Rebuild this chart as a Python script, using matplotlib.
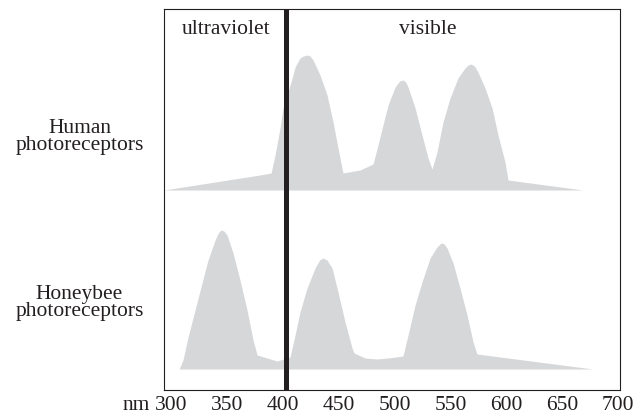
import numpy as np
import matplotlib.pyplot as plt

# wavelength (nm) and relative sensitivity
human_nm = [293.7, 379.6, 389.5, 393.1, 397.5, 400.2, 407.4, 411.0, 415.4, 418.4,
            421.7, 424.4, 427.1, 433.3, 439.6, 445.0, 449.4, 453.9, 469.1, 480.8,
            485.2, 489.7, 494.2, 500.5, 504.5, 507.6, 510.0, 512.1, 518.4, 524.6,
            530.0, 533.6, 538.0, 543.4, 549.7, 556.8, 563.1, 566.0, 568.5, 571.5,
            574.7, 581.0, 587.3, 592.6, 598.9, 601.6, 668.7]
human_sens = [0, 15, 17, 35, 62, 82, 108, 123, 132, 134,
              135, 134, 130, 115, 95, 68, 42, 17, 20, 26,
              45, 65, 85, 103, 109, 110, 108, 103, 82, 55,
              32, 21, 38, 68, 92, 112, 122, 125, 126, 124,
              118, 102, 82, 55, 28, 10, 0]

bee_nm = [307.2, 310.7, 315.2, 321.5, 327.7, 333.1, 339.4, 342.3, 344.7, 347.3,
          350.1, 355.5, 361.7, 368.0, 373.4, 377.0, 385.9, 394.9, 406.5, 411.0,
          415.4, 421.7, 428.9, 433.0, 436.0, 439.5, 444.1, 449.4, 455.7, 462.0,
          463.8, 473.6, 484.3, 494.2, 507.6, 512.1, 518.4, 524.6, 531.8, 538.0,
          541.6, 544.5, 547.0, 552.4, 558.6, 564.9, 570.3, 573.8, 677.6]
bee_sens = [0, 9, 32, 59, 86, 109, 129, 136, 139, 138,
            134, 116, 89, 59, 29, 14, 11, 8, 12, 34,
            57, 81, 101, 109, 111, 109, 101, 77, 47, 21,
            16, 11, 10, 11, 13, 34, 64, 87, 111, 122,
            126, 125, 121, 106, 81, 54, 27, 15, 0]

ticks = [300, 350, 400, 450, 500, 550, 600, 650, 700]
uv_boundary = 403

plt.rcParams['font.family'] = ['Liberation Serif', 'DejaVu Serif']
ink = '#231f20'
fill = '#d6d7d9'
fs = 15.5

fig = plt.figure(figsize=(6.38, 4.17), dpi=100)
ax = fig.add_axes([164 / 638, 27 / 417, 456 / 638, 381 / 417])

# human row sits higher than the honeybee row
ax.fill_between(human_nm, 200, 200 + np.array(human_sens), color=fill, lw=0)
ax.fill_between(bee_nm, 21, 21 + np.array(bee_sens), color=fill, lw=0)
ax.axvline(uv_boundary, color=ink, lw=3.6)

ax.set_xlim(293.7, 701.8)
ax.set_ylim(0, 381)
ax.set_xticks(ticks)
ax.set_yticks([])
ax.tick_params(axis='x', length=0, pad=4, labelsize=fs, labelcolor=ink)
for s in ax.spines.values():
    s.set_color(ink)
    s.set_linewidth(0.8)

ax.text(349.5, 0.945, 'ultraviolet', transform=ax.get_xaxis_transform(),
        ha='center', va='center', fontsize=fs, color=ink)
ax.text(530, 0.945, 'visible', transform=ax.get_xaxis_transform(),
        ha='center', va='center', fontsize=fs, color=ink)

fig.text(79.5 / 638, 1 - 137 / 417, 'Human\nphotoreceptors', ha='center', va='center',
         fontsize=fs, color=ink, linespacing=0.9)
fig.text(79.5 / 638, 1 - 303 / 417, 'Honeybee\nphotoreceptors', ha='center', va='center',
         fontsize=fs, color=ink, linespacing=0.9)
fig.text(150 / 638, 1 - 406 / 417, 'nm', ha='right', va='center', fontsize=fs, color=ink)

fig.savefig('out.png', dpi=100)
